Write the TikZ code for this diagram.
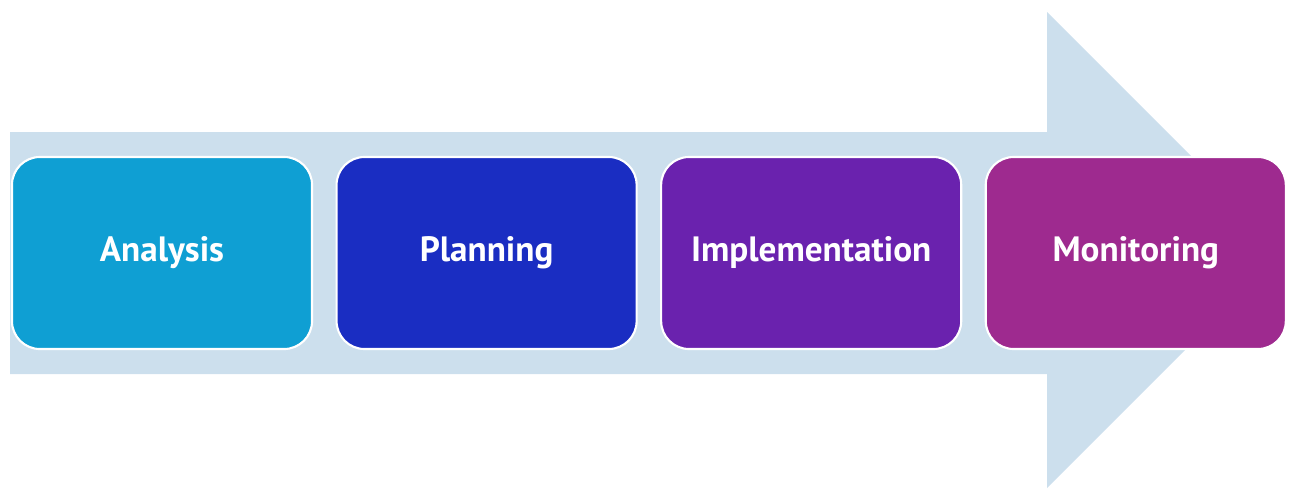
\documentclass[tikz,border=0pt]{standalone}
\usepackage{fontspec}
\setmainfont{PT Sans}
\usetikzlibrary{positioning}

\definecolor{arrowblue}{RGB}{204,223,237}
\definecolor{stepcyan}{RGB}{15,159,211}
\definecolor{stepblue}{RGB}{26,45,194}
\definecolor{steppurple}{RGB}{106,34,174}
\definecolor{stepmagenta}{RGB}{158,42,143}

\begin{document}
\begin{tikzpicture}[x=0.025cm,y=-0.025cm]

\tikzset{phase/.style={draw=white, line width=1.5pt, rounded corners=0.7cm,
    minimum width=7.5cm, minimum height=4.8cm, inner sep=0pt,
    text=white, font=\fontsize{25}{30}\selectfont\bfseries}}

\useasboundingbox (0,0) rectangle (1291,489);

% big background arrow
\fill[arrowblue] (10,132) -- (1047,132) -- (1047,12) -- (1285,250)
    -- (1047,488) -- (1047,374) -- (10,374) -- cycle;

\node[phase, fill=stepcyan] (analysis) at (162,253) {Analysis};
\node[phase, fill=stepblue, right=0.56cm of analysis] (planning) {Planning};
\node[phase, fill=steppurple, right=0.56cm of planning] (implementation) {Implementation};
\node[phase, fill=stepmagenta, right=0.56cm of implementation] (monitoring) {Monitoring};

\end{tikzpicture}
\end{document}
